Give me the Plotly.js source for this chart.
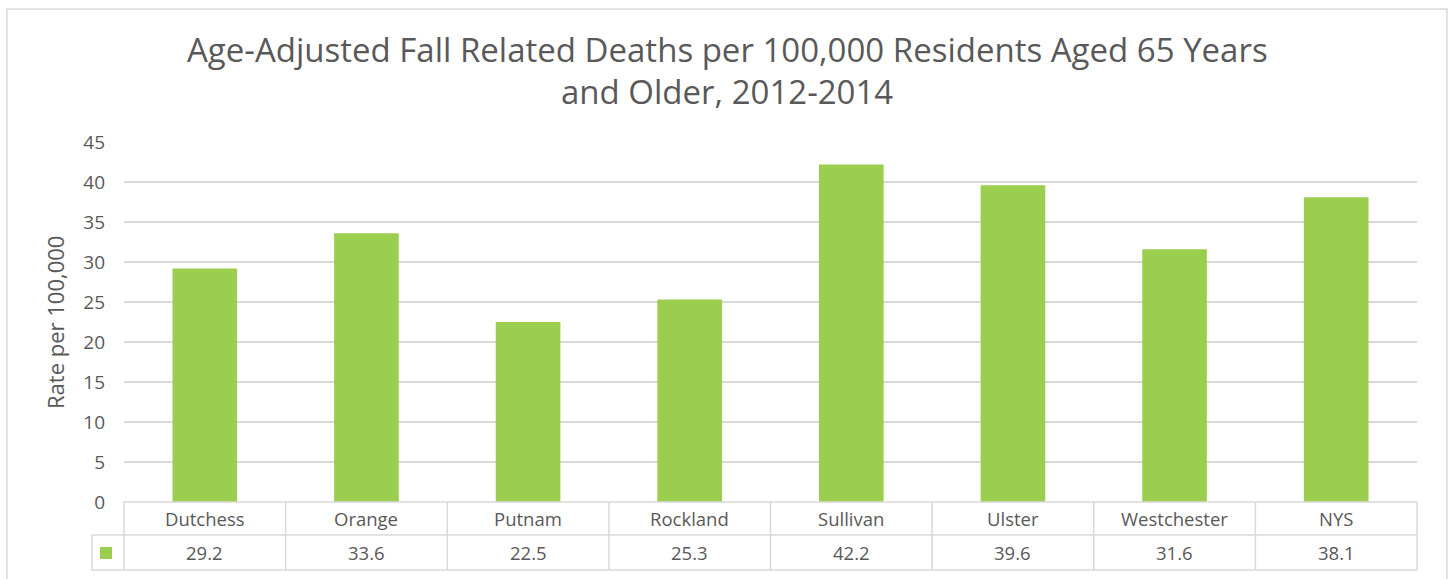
<!DOCTYPE html>
<html>
<head>
<meta charset="utf-8">
<script src="https://cdn.plot.ly/plotly-3.0.1.min.js"></script>
<style>
  html, body { margin: 0; padding: 0; background: #ffffff; }
  #chart { width: 1450px; height: 579px; }
</style>
</head>
<body>
<div id="chart"></div>
<script>
// ---- Data ----
const categories = ["Dutchess", "Orange", "Putnam", "Rockland", "Sullivan", "Ulster", "Westchester", "NYS"];
const rates = [29.2, 33.6, 22.5, 25.3, 42.2, 39.6, 31.6, 38.1];
const yTicks = [0, 5, 10, 15, 20, 25, 30, 35, 40, 45];
const titleLine1 = "Age-Adjusted Fall Related Deaths per 100,000 Residents Aged 65 Years";
const titleLine2 = "and Older, 2012-2014";
const yTitle = "Rate per 100,000";

// ---- Layout geometry (pixels) ----
const W = 1450, H = 579;
const M = { l: 124, r: 33, t: 142, b: 77 };
const plotW = W - M.l - M.r;
const plotH = H - M.t - M.b;
const px2x = px => (px - M.l) / plotW;            // pixel -> paper x
const py2y = py => (H - M.b - py) / plotH;         // pixel -> paper y

const FONT = "'Open Sans', 'Noto Sans', sans-serif";
const TXT = "#595959";
const GRID = "#D9D9D9";
const BAR = "#9BCE4F";

const n = categories.length;
const row1Bottom = py2y(535);
const row2Bottom = py2y(570);
const legendLeft = px2x(92);

const shapes = [];
const annotations = [];

// Outer chart frame
shapes.push({ type: "rect", xref: "paper", yref: "paper",
  x0: px2x(7), x1: px2x(1447), y0: py2y(590), y1: py2y(9),
  line: { color: GRID, width: 1.5 }, fillcolor: "rgba(0,0,0,0)", layer: "below" });

// Table horizontal lines
const hLine = (x0, x1, y) => shapes.push({ type: "line", xref: "paper", yref: "paper",
  x0, x1, y0: y, y1: y, line: { color: GRID, width: 1.5 } });
hLine(0, 1, 0);
hLine(legendLeft, 1, row1Bottom);
hLine(legendLeft, 1, row2Bottom);
// Table vertical lines
const vLine = (x, y0, y1) => shapes.push({ type: "line", xref: "paper", yref: "paper",
  x0: x, x1: x, y0, y1, line: { color: GRID, width: 1.5 } });
for (let k = 0; k <= n; k++) vLine(k / n, row2Bottom, 0);
vLine(legendLeft, row2Bottom, row1Bottom);

// Legend key square
shapes.push({ type: "rect", xref: "paper", yref: "paper",
  x0: px2x(100), x1: px2x(112), y0: py2y(559), y1: py2y(547),
  line: { width: 0 }, fillcolor: BAR });

// Table texts
categories.forEach((c, i) => {
  annotations.push({ xref: "paper", yref: "paper", x: (i + 0.5) / n, y: (0 + row1Bottom) / 2,
    text: c, showarrow: false, xanchor: "center", yanchor: "middle",
    font: { family: FONT, size: 18.5, color: TXT } });
  annotations.push({ xref: "paper", yref: "paper", x: (i + 0.5) / n, y: (row1Bottom + row2Bottom) / 2,
    text: rates[i].toFixed(1), showarrow: false, xanchor: "center", yanchor: "middle",
    font: { family: FONT, size: 18.5, color: TXT } });
});

// Title (two lines)
annotations.push({ xref: "paper", yref: "paper", x: px2x(727), y: py2y(49),
  text: titleLine1, showarrow: false, xanchor: "center", yanchor: "middle",
  font: { family: FONT, size: 33, color: TXT } });
annotations.push({ xref: "paper", yref: "paper", x: px2x(727), y: py2y(91),
  text: titleLine2, showarrow: false, xanchor: "center", yanchor: "middle",
  font: { family: FONT, size: 33, color: TXT } });

// Y axis title
annotations.push({ xref: "paper", yref: "paper", x: px2x(55), y: py2y(323),
  text: yTitle, showarrow: false, textangle: -90, xanchor: "center", yanchor: "middle",
  font: { family: FONT, size: 22, color: TXT } });

const trace = {
  type: "bar",
  x: categories,
  y: rates,
  marker: { color: BAR, line: { width: 0 } },
  hoverinfo: "x+y"
};

const layout = {
  width: W, height: H,
  margin: M,
  paper_bgcolor: "#ffffff",
  plot_bgcolor: "#ffffff",
  bargap: 0.6,
  showlegend: false,
  xaxis: {
    type: "category",
    range: [-0.5, n - 0.5],
    showticklabels: false,
    showgrid: false,
    zeroline: false,
    showline: false,
    ticks: ""
  },
  yaxis: {
    range: [0, 45],
    tickvals: yTicks,
    ticktext: yTicks.map(String),
    showgrid: true,
    gridcolor: GRID,
    gridwidth: 1.5,
    zeroline: false,
    showline: false,
    ticks: "",
    ticklabelstandoff: 18,
    tickfont: { family: FONT, size: 19, color: TXT }
  },
  shapes,
  annotations
};

Plotly.newPlot("chart", [trace], layout, { displayModeBar: false, staticPlot: true });
</script>
</body>
</html>
